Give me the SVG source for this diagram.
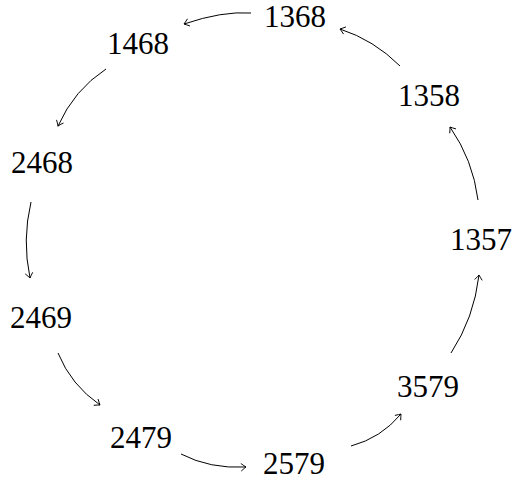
<svg xmlns="http://www.w3.org/2000/svg" width="512" height="480" viewBox="0 0 512 480">
<style>
text{font-family:"Liberation Serif","Times New Roman",serif;font-size:31px;fill:#000;text-anchor:middle}
.e{fill:none;stroke:#000;stroke-width:1;marker-end:url(#ah)}
</style>
<defs>
<marker id="ah" markerUnits="userSpaceOnUse" markerWidth="12" markerHeight="12" viewBox="-6 -6 12 12" refX="0" refY="0" orient="auto">
<path d="M-5,-3.8 Q-1.5,-1 0,0 Q-1.5,1 -5,3.8" fill="none" stroke="#000" stroke-width="0.9"/>
</marker>
</defs>
<rect width="512" height="480" fill="#fff"/>
<g id="connectors">
<path class="e" d="M251,13 Q222,11 184,24"/>
<path class="e" d="M106,69 Q74,90 58,126"/>
<path class="e" d="M31,202 Q22,240 30,278"/>
<path class="e" d="M58,353 Q71,385 100,405"/>
<path class="e" d="M181,454 Q210,469 246,467"/>
<path class="e" d="M351,446 Q381,438 401,414"/>
<path class="e" d="M451,353 Q474,318 479,275"/>
<path class="e" d="M478,200 Q473,160 450,127"/>
<path class="e" d="M400,66 Q374,40 340,29"/>
</g>
<g id="n1368"><text x="295" y="27">1368</text></g>
<g id="n1468"><text x="138" y="54">1468</text></g>
<g id="n2468"><text x="42" y="173">2468</text></g>
<g id="n2469"><text x="41" y="328">2469</text></g>
<g id="n2479"><text x="141" y="448">2479</text></g>
<g id="n2579"><text x="294" y="474">2579</text></g>
<g id="n3579"><text x="428" y="397">3579</text></g>
<g id="n1357"><text x="481" y="250">1357</text></g>
<g id="n1358"><text x="429" y="106">1358</text></g>
</svg>
